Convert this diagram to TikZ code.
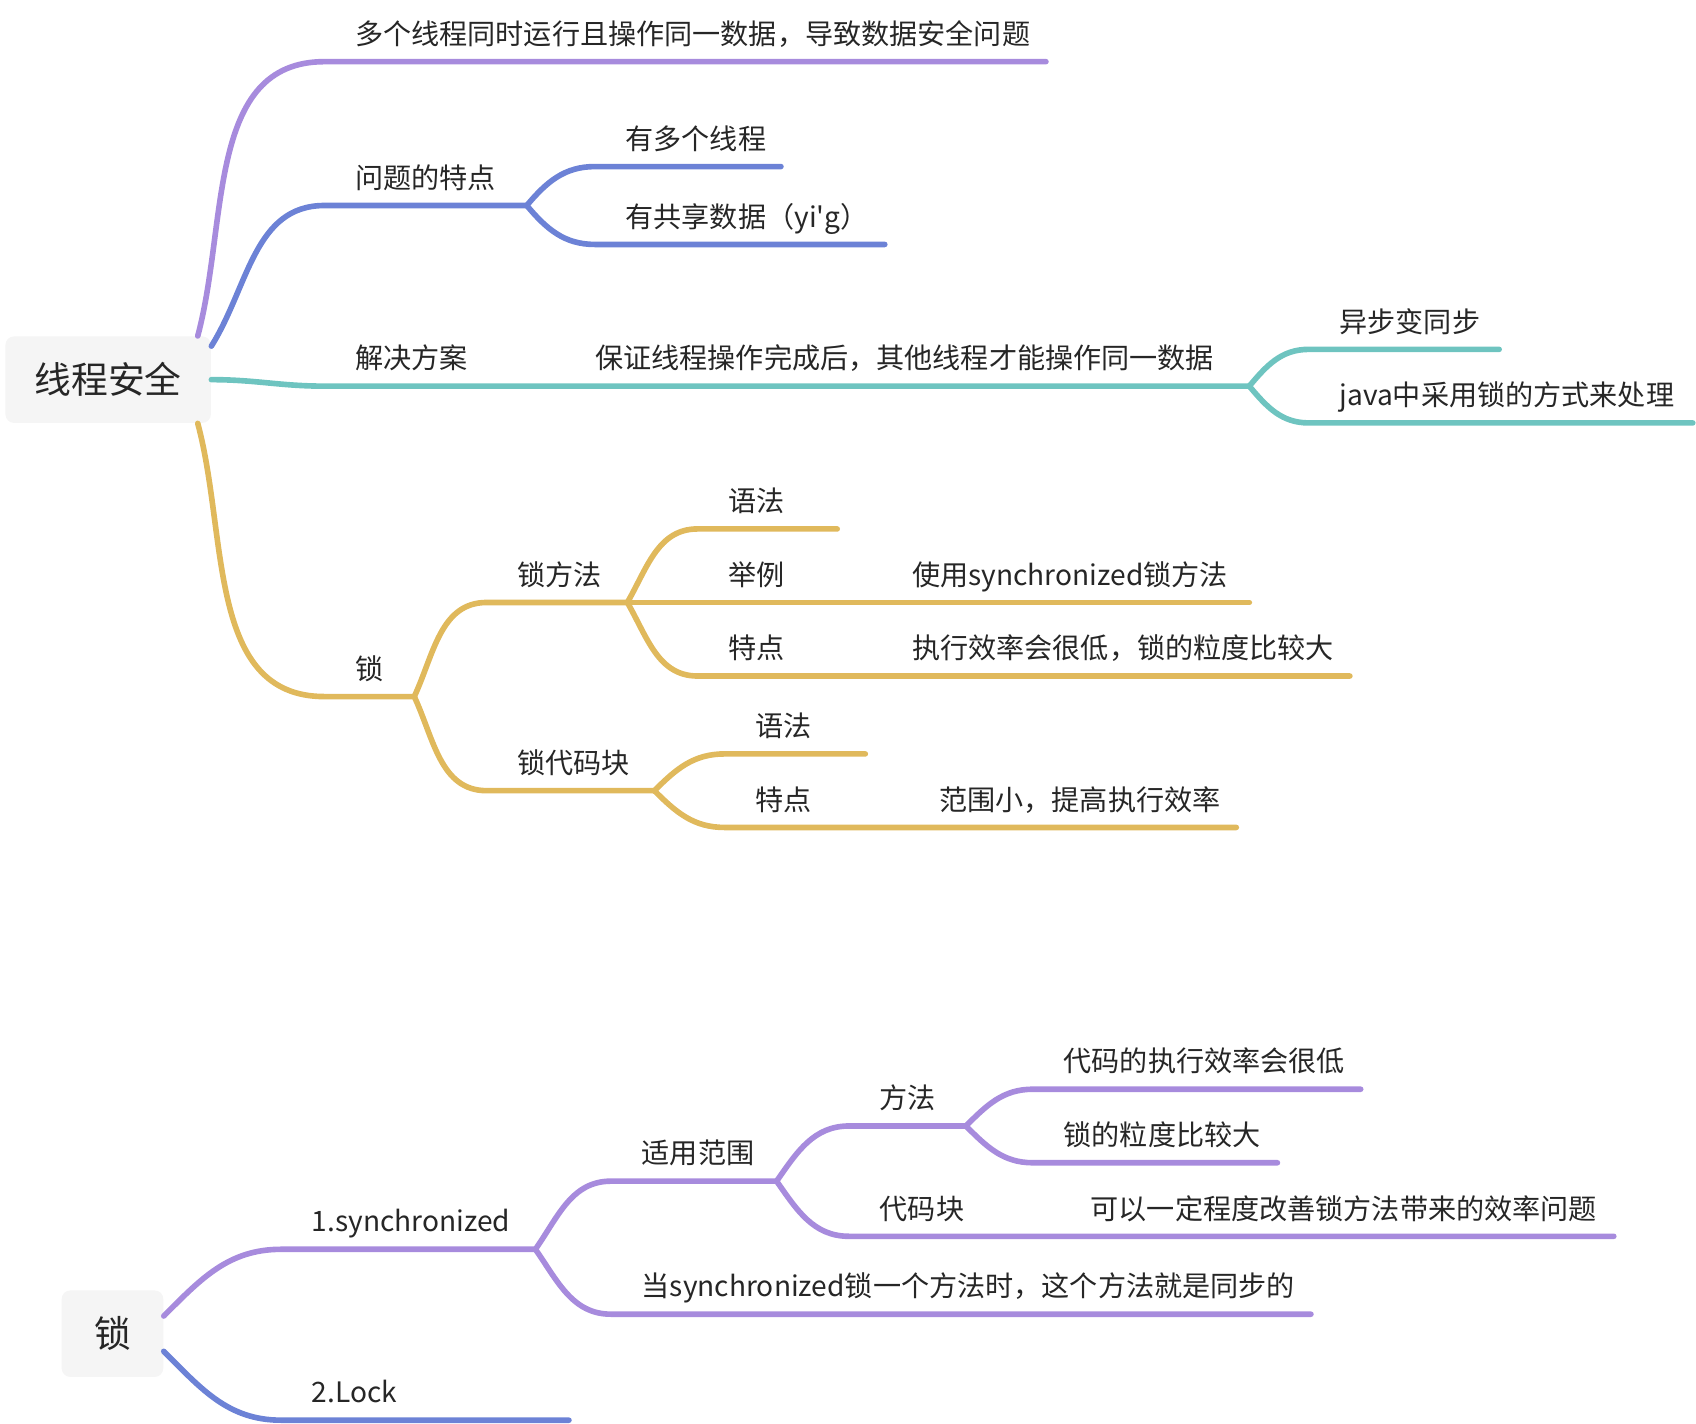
\documentclass[tikz,border=0pt]{standalone}
\usepackage{fontspec}
\newfontfamily\mmfont{Noto Sans CJK SC}
\definecolor{mmpurple}{RGB}{167,139,221}
\definecolor{mmblue}{RGB}{108,130,214}
\definecolor{mmteal}{RGB}{110,196,192}
\definecolor{mmgold}{RGB}{224,185,92}
\definecolor{rootgray}{RGB}{245,245,245}
\definecolor{inkgray}{RGB}{38,38,38}
\tikzstyle{branch}=[line width=2.6pt, line cap=round]
\tikzstyle{topic}=[anchor=base west, inner sep=0pt, xshift=14pt, yshift=8pt,
  text=inkgray, font=\mmfont\fontsize{13}{16}\selectfont]
\tikzstyle{rootbox}=[fill=rootgray, rounded corners=4pt, inner sep=0pt,
  minimum height=40pt, text=inkgray, font=\mmfont\fontsize{17}{20}\selectfont]

\begin{document}
\begin{tikzpicture}[x=0.5pt, y=-0.5pt]
        \useasboundingbox (0,0) rectangle (1568,1316);
        % first map
        \node[rootbox, minimum width=95pt] (safe) at (100,351) {线程安全};
        \coordinate (why) at (300,57);    \coordinate (why-e) at (967,57);
        \coordinate (feat) at (300,190);  \coordinate (feat-e) at (487,190);
        \coordinate (feat1) at (550,154); \coordinate (feat1-e) at (722,154);
        \coordinate (feat2) at (550,226); \coordinate (feat2-e) at (818,226);
        \coordinate (sol) at (300,357);   \coordinate (sol-e) at (522,357);
        \coordinate (sol-d) at (1155,357);
        \coordinate (sync1) at (1210,323); \coordinate (sync1-e) at (1386,323);
        \coordinate (sync2) at (1210,391); \coordinate (sync2-e) at (1565,391);
        \node[topic] (why-t) at (why) {多个线程同时运行且操作同一数据，导致数据安全问题};
        \node[topic] (feat-t) at (feat) {问题的特点};
        \node[topic] (feat1-t) at (feat1) {有多个线程};
        \node[topic] (feat2-t) at (feat2) {有共享数据（yi'g）};
        \node[topic] (sol-t) at (sol) {解决方案};
        \node[topic] (sold-t) at (sol-e) {保证线程操作完成后，其他线程才能操作同一数据};
        \node[topic] (sync1-t) at (sync1) {异步变同步};
        \node[topic] (sync2-t) at (sync2) {java中采用锁的方式来处理};
        \draw[branch, mmpurple] (safe.26) to[out=75, in=180] (why) -- (why-e);
        \draw[branch, mmblue] (safe.18) to[out=58, in=180] (feat) -- (feat-e);
        \draw[branch, mmblue] (feat-e) to[out=50, in=180] (feat1) -- (feat1-e);
        \draw[branch, mmblue] (feat-e) to[out=-50, in=180] (feat2) -- (feat2-e);
        \draw[branch, mmteal] (safe.0) to[out=0, in=180] (sol) -- (sol-e) -- (sol-d);
        \draw[branch, mmteal] (sol-d) to[out=50, in=180] (sync1) -- (sync1-e);
        \draw[branch, mmteal] (sol-d) to[out=-50, in=180] (sync2) -- (sync2-e);
        % lock branch
        \coordinate (lock) at (300,644);   \coordinate (lock-e) at (383,644);
        \coordinate (lm) at (450,557);     \coordinate (lm-e) at (580,557);
        \coordinate (lm1) at (645,489);    \coordinate (lm1-e) at (774,489);
        \coordinate (lm2) at (645,557);    \coordinate (lm2-e) at (815,557);
        \coordinate (lm2-d) at (1155,557);
        \coordinate (lm3) at (645,625);    \coordinate (lm3-e) at (815,625);
        \coordinate (lm3-d) at (1248,625);
        \coordinate (lb) at (450,731);     \coordinate (lb-e) at (605,731);
        \coordinate (lb1) at (670,697);    \coordinate (lb1-e) at (800,697);
        \coordinate (lb2) at (670,765);    \coordinate (lb2-e) at (840,765);
        \coordinate (lb2-d) at (1143,765);
        \node[topic] (lock-t) at (lock) {锁};
        \node[topic] (lm-t) at (lm) {锁方法};
        \node[topic] (lm1-t) at (lm1) {语法};
        \node[topic] (lm2-t) at (lm2) {举例};
        \node[topic] (lm2d-t) at (lm2-e) {使用synchronized锁方法};
        \node[topic] (lm3-t) at (lm3) {特点};
        \node[topic] (lm3d-t) at (lm3-e) {执行效率会很低，锁的粒度比较大};
        \node[topic] (lb-t) at (lb) {锁代码块};
        \node[topic] (lb1-t) at (lb1) {语法};
        \node[topic] (lb2-t) at (lb2) {特点};
        \node[topic] (lb2d-t) at (lb2-e) {范围小，提高执行效率};
        \draw[branch, mmgold] (safe.-26) to[out=-75, in=180] (lock) -- (lock-e);
        \draw[branch, mmgold] (lock-e) to[out=65, in=180] (lm) -- (lm-e);
        \draw[branch, mmgold] (lock-e) to[out=-65, in=180] (lb) -- (lb-e);
        \draw[branch, mmgold] (lm-e) to[out=60, in=180] (lm1) -- (lm1-e);
        \draw[branch, mmgold] (lm-e) -- (lm2) -- (lm2-e) -- (lm2-d);
        \draw[branch, mmgold] (lm-e) to[out=-60, in=180] (lm3) -- (lm3-e) -- (lm3-d);
        \draw[branch, mmgold] (lb-e) to[out=45, in=180] (lb1) -- (lb1-e);
        \draw[branch, mmgold] (lb-e) to[out=-45, in=180] (lb2) -- (lb2-e) -- (lb2-d);
        % second map
        \node[rootbox, minimum width=47pt] (suo) at (104,1233) {锁};
        \coordinate (syn) at (260,1155);   \coordinate (syn-e) at (495,1155);
        \coordinate (use) at (565,1092);   \coordinate (use-e) at (718,1092);
        \coordinate (um) at (785,1041);    \coordinate (um-e) at (893,1041);
        \coordinate (um1) at (955,1007);   \coordinate (um1-e) at (1258,1007);
        \coordinate (um2) at (955,1075);   \coordinate (um2-e) at (1181,1075);
        \coordinate (ub) at (785,1143);    \coordinate (ub-e) at (980,1143);
        \coordinate (ub-d) at (1492,1143);
        \coordinate (when) at (565,1215);  \coordinate (when-e) at (1212,1215);
        \coordinate (lk) at (260,1313);    \coordinate (lk-e) at (526,1313);
        \node[topic] (syn-t) at (syn) {1.synchronized};
        \node[topic] (use-t) at (use) {适用范围};
        \node[topic] (um-t) at (um) {方法};
        \node[topic] (um1-t) at (um1) {代码的执行效率会很低};
        \node[topic] (um2-t) at (um2) {锁的粒度比较大};
        \node[topic] (ub-t) at (ub) {代码块};
        \node[topic] (ubd-t) at (ub-e) {可以一定程度改善锁方法带来的效率问题};
        \node[topic] (when-t) at (when) {当synchronized锁一个方法时，这个方法就是同步的};
        \node[topic] (lk-t) at (lk) {2.Lock};
        \draw[branch, mmpurple] (suo.19) to[out=45, in=180] (syn) -- (syn-e);
        \draw[branch, mmpurple] (syn-e) to[out=55, in=180] (use) -- (use-e);
        \draw[branch, mmpurple] (syn-e) to[out=-55, in=180] (when) -- (when-e);
        \draw[branch, mmpurple] (use-e) to[out=55, in=180] (um) -- (um-e);
        \draw[branch, mmpurple] (use-e) to[out=-55, in=180] (ub) -- (ub-e) -- (ub-d);
        \draw[branch, mmpurple] (um-e) to[out=45, in=180] (um1) -- (um1-e);
        \draw[branch, mmpurple] (um-e) to[out=-45, in=180] (um2) -- (um2-e);
        \draw[branch, mmblue] (suo.-19) to[out=-45, in=180] (lk) -- (lk-e);
\end{tikzpicture}
\end{document}
